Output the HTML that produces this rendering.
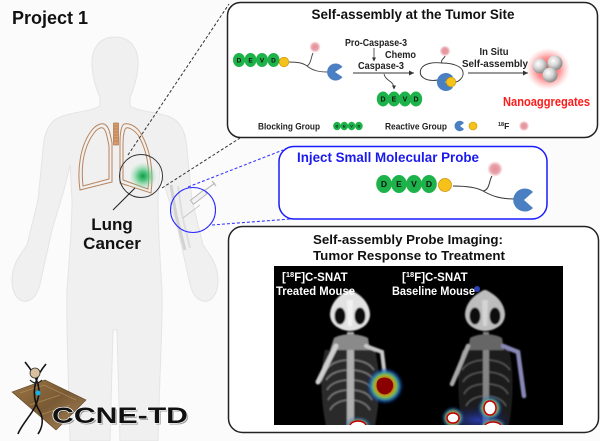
<!DOCTYPE html>
<html><head><meta charset="utf-8">
<style>
html,body{margin:0;padding:0;background:#fbfbfb;}
body{width:600px;height:441px;overflow:hidden;}
svg{display:block;font-family:"Liberation Sans",Arial,sans-serif;}
</style></head>
<body>
<svg width="600" height="441" viewBox="0 0 600 441" xmlns="http://www.w3.org/2000/svg">
<defs>
  <radialGradient id="gblob" cx="50%" cy="50%" r="50%">
    <stop offset="0" stop-color="#0f9a48"/>
    <stop offset="0.35" stop-color="#3cbf6e" stop-opacity="0.85"/>
    <stop offset="1" stop-color="#9fe0b8" stop-opacity="0"/>
  </radialGradient>
  <radialGradient id="pink" cx="50%" cy="50%" r="50%">
    <stop offset="0" stop-color="#e48f98"/>
    <stop offset="0.6" stop-color="#e9a2aa"/>
    <stop offset="1" stop-color="#f3c8cc" stop-opacity="0.3"/>
  </radialGradient>
  <radialGradient id="redglow" cx="50%" cy="50%" r="50%">
    <stop offset="0" stop-color="#ff2020" stop-opacity="0.9"/>
    <stop offset="0.55" stop-color="#ff4040" stop-opacity="0.55"/>
    <stop offset="1" stop-color="#ff8080" stop-opacity="0"/>
  </radialGradient>
  <radialGradient id="sphere" cx="38%" cy="35%" r="65%">
    <stop offset="0" stop-color="#ffffff"/>
    <stop offset="0.5" stop-color="#d6d6d6"/>
    <stop offset="1" stop-color="#8a8a8a"/>
  </radialGradient>
  <linearGradient id="chip" x1="0" y1="0" x2="1" y2="1">
    <stop offset="0" stop-color="#9a7444"/>
    <stop offset="0.5" stop-color="#7a5a34"/>
    <stop offset="1" stop-color="#a8865a"/>
  </linearGradient>
  <radialGradient id="hot1" cx="50%" cy="50%" r="50%">
    <stop offset="0" stop-color="#7a0000"/>
    <stop offset="0.45" stop-color="#b00000"/>
    <stop offset="0.58" stop-color="#e0c000"/>
    <stop offset="0.72" stop-color="#30c040"/>
    <stop offset="0.88" stop-color="#2050e0"/>
    <stop offset="1" stop-color="#1030a0" stop-opacity="0"/>
  </radialGradient>
  <radialGradient id="blueglow" cx="50%" cy="50%" r="50%">
    <stop offset="0" stop-color="#3050ff" stop-opacity="0.6"/>
    <stop offset="1" stop-color="#1020a0" stop-opacity="0"/>
  </radialGradient>
  <filter id="soft" x="-20%" y="-20%" width="140%" height="140%"><feGaussianBlur stdDeviation="0.9"/></filter>
  <filter id="soft2" x="-30%" y="-30%" width="160%" height="160%"><feGaussianBlur stdDeviation="1.6"/></filter>
  <marker id="ah" markerWidth="6" markerHeight="6" refX="5" refY="3" orient="auto" markerUnits="userSpaceOnUse">
    <path d="M0,0.5 L5,3 L0,5.5 Z" fill="#333"/>
  </marker>
  <marker id="ahs" markerWidth="4" markerHeight="4" refX="3.5" refY="2" orient="auto" markerUnits="userSpaceOnUse">
    <path d="M0,0 L4,2 L0,4 Z" fill="#333"/>
  </marker>
</defs>

<!-- Body silhouette -->
<path d="M115 37 C131 37 139 49 138 66 C137 82 132 92 130 98 L130 106 C140 112 158 112 170 117 C182 122 186 134 187 150 L192 200 L203 245 C210 255 218 265 218 280 C218 295 210 305 200 300 C192 296 190 285 188 275 L178 230 L166 190 L160 165 L158 200 C158 230 160 260 162 290 C163 320 160 360 158 441 L120 441 L117 330 L113 330 L110 441 L70 441 C68 360 66 320 67 290 C69 260 72 230 72 200 L70 165 L64 190 L52 230 L42 275 C40 285 38 296 30 300 C20 305 12 295 12 280 C12 265 20 255 27 245 L38 200 L43 150 C44 134 48 122 60 117 C72 112 90 112 100 106 L100 98 C98 92 93 82 92 66 C91 49 99 37 115 37 Z" fill="#f0f0f0" stroke="#e4e4e4" stroke-width="1"/>
<!-- arm vein strip -->
<path d="M171 185 L176 215 L185 250" stroke="#d2d2d2" stroke-width="3" fill="none"/>
<path d="M178 186 L182 215 L190 248" stroke="#dedede" stroke-width="2" fill="none"/>

<!-- Lungs -->
<g fill="none" stroke="#b8845c" stroke-width="1">
  <path d="M112 143 L112 182 L80 190 C77 170 80 145 92 130 C96 125 101 123 104 124 C109 126 110 133 112 143"/>
  <path d="M109 146 L109 179 L83 186 C81 168 83 148 94 133 C97 129 100 127 103 128 C106 130 107 136 109 146"/>
  <path d="M120 143 L120 183 L151 193 C154 170 150 148 140 132 C135 125 128 123 124 124 C121 126 120 133 120 143"/>
  <path d="M123 146 L123 180 L148 189 C150 169 147 150 138 135 C134 130 129 127 126 128 C124 130 123 136 123 146"/>
</g>
<rect x="113.5" y="123" width="5" height="22" fill="#d89a6a" stroke="#a06a40" stroke-width="0.6"/>
<path d="M113.5 126 H118.5 M113.5 129 H118.5 M113.5 132 H118.5 M113.5 135 H118.5 M113.5 138 H118.5 M113.5 141 H118.5" stroke="#a06a40" stroke-width="0.6"/>

<!-- tumor -->
<circle cx="143" cy="176" r="14" fill="url(#gblob)"/>
<circle cx="141" cy="176" r="21.5" fill="none" stroke="#333" stroke-width="1"/>
<line x1="113" y1="210" x2="135" y2="188" stroke="#222" stroke-width="1"/>

<!-- black dashed connectors -->
<line x1="128" y1="155" x2="229" y2="4" stroke="#333" stroke-width="1" stroke-dasharray="3,2"/>
<line x1="162" y1="188" x2="240" y2="138" stroke="#333" stroke-width="1" stroke-dasharray="3,2"/>

<!-- injection circle -->
<g>
  <line x1="183" y1="218" x2="200" y2="205" stroke="#c8c8c8" stroke-width="1"/>
  <rect x="190" y="195" width="17" height="5" transform="rotate(-38 198 197)" fill="#f2f2f2" stroke="#aaa" stroke-width="0.8"/>
  <line x1="204" y1="191" x2="215" y2="183" stroke="#bbb" stroke-width="1.2"/>
  <line x1="212" y1="181" x2="216" y2="186" stroke="#bbb" stroke-width="1.2"/>
</g>
<circle cx="193" cy="210" r="22.5" fill="none" stroke="#2a2aff" stroke-width="1.1"/>
<line x1="188" y1="187" x2="283" y2="150" stroke="#3a3aff" stroke-width="1.1" stroke-dasharray="3,2"/>
<line x1="212" y1="225" x2="290" y2="219" stroke="#3a3aff" stroke-width="1.1" stroke-dasharray="3,2"/>

<!-- Project 1 -->
<text x="12" y="24" font-size="18" font-weight="bold" fill="#111">Project 1</text>

<!-- Lung Cancer -->
<text x="112" y="230" font-size="17" font-weight="bold" fill="#111" text-anchor="middle">Lung</text>
<text x="112" y="249" font-size="17" font-weight="bold" fill="#111" text-anchor="middle">Cancer</text>

<!-- ============ TOP BOX ============ -->
<rect x="227.5" y="2.5" width="370" height="135" rx="13" fill="#fff" stroke="#222" stroke-width="1.5"/>
<text x="413" y="19" font-size="14" font-weight="bold" fill="#111" text-anchor="middle" textLength="203" lengthAdjust="spacingAndGlyphs">Self-assembly at the Tumor Site</text>

<!-- molecule 1 -->
<g font-size="6.5" font-weight="bold" text-anchor="middle" fill="#111">
  <ellipse cx="239" cy="60" rx="6" ry="7" fill="#1db34a"/>
  <ellipse cx="250.5" cy="60" rx="6" ry="7" fill="#1db34a"/>
  <ellipse cx="262" cy="60" rx="6" ry="7" fill="#1db34a"/>
  <ellipse cx="273.5" cy="60" rx="6" ry="7" fill="#1db34a"/>
  <text x="239" y="62.5">D</text><text x="250.5" y="62.5">E</text><text x="262" y="62.5">V</text><text x="273.5" y="62.5">D</text>
</g>
<path d="M289 62 C298 62 303 63 307 66 C313 71 320 72 328 72" fill="none" stroke="#444" stroke-width="0.9"/>
<path d="M307 66 C311 64 311 57 313 53" fill="none" stroke="#444" stroke-width="0.9"/>
<circle cx="284" cy="62" r="4.8" fill="#f6c21a" stroke="#c89000" stroke-width="0.6"/>
<circle cx="315" cy="47" r="5.5" fill="url(#pink)"/>
<path d="M335 72 L342.5 67 A8.5 8.5 0 1 0 342.5 77 Z" fill="#4a7fc1"/>

<!-- arrow 1 + labels -->
<text x="345" y="46" font-size="10" font-weight="bold" fill="#222" textLength="62" lengthAdjust="spacingAndGlyphs">Pro-Caspase-3</text>
<line x1="374" y1="48" x2="374" y2="61" stroke="#333" stroke-width="0.8" marker-end="url(#ahs)"/>
<text x="385" y="58" font-size="10" font-weight="bold" fill="#222" textLength="31" lengthAdjust="spacingAndGlyphs">Chemo</text>
<text x="358" y="69" font-size="10" font-weight="bold" fill="#222" textLength="46" lengthAdjust="spacingAndGlyphs">Caspase-3</text>
<line x1="353" y1="73" x2="414" y2="73" stroke="#333" stroke-width="0.9" marker-end="url(#ah)"/>
<path d="M384 74 C386 82 394 80 394 89" fill="none" stroke="#333" stroke-width="0.8" marker-end="url(#ahs)"/>

<!-- released DEVD -->
<g font-size="7" font-weight="bold" text-anchor="middle" fill="#111">
  <ellipse cx="383" cy="99" rx="6.2" ry="7.5" fill="#1db34a"/>
  <ellipse cx="394" cy="99" rx="6.2" ry="7.5" fill="#1db34a"/>
  <ellipse cx="405" cy="99" rx="6.2" ry="7.5" fill="#1db34a"/>
  <ellipse cx="416" cy="99" rx="6.2" ry="7.5" fill="#1db34a"/>
  <text x="383" y="101.5">D</text><text x="394" y="101.5">E</text><text x="405" y="101.5">V</text><text x="416" y="101.5">D</text>
</g>

<!-- cyclized molecule -->
<path d="M438 80 C425 82 418 76 421 69 C424 63 434 62 442 63 C452 63 462 66 463 72 C464 78 458 82 455 82" fill="none" stroke="#333" stroke-width="0.9"/>
<path d="M442 63 C440 60 445 58 445 56" fill="none" stroke="#333" stroke-width="0.9"/>
<circle cx="445" cy="51" r="5.3" fill="url(#pink)"/>
<path d="M445 82 L453 76.5 A9 9 0 1 0 453 87.5 Z" fill="#4a7fc1"/>
<circle cx="451" cy="82" r="4.8" fill="#f6c21a" stroke="#c89000" stroke-width="0.6"/>

<!-- arrow 2 -->
<text x="494" y="55" font-size="10.5" font-weight="bold" fill="#222" text-anchor="middle" textLength="29" lengthAdjust="spacingAndGlyphs">In Situ</text>
<text x="495" y="67" font-size="10.5" font-weight="bold" fill="#222" text-anchor="middle" textLength="66" lengthAdjust="spacingAndGlyphs">Self-assembly</text>
<line x1="468" y1="73" x2="528" y2="73" stroke="#333" stroke-width="0.9" marker-end="url(#ah)"/>

<!-- nanoaggregates -->
<ellipse cx="548" cy="69" rx="22" ry="21" fill="url(#redglow)"/>
<circle cx="540" cy="66" r="7.5" fill="url(#sphere)"/>
<circle cx="555" cy="63" r="7.5" fill="url(#sphere)"/>
<circle cx="550" cy="75" r="7.5" fill="url(#sphere)"/>
<text x="503" y="106" font-size="12.5" font-weight="bold" fill="#ff1a1a" textLength="87" lengthAdjust="spacingAndGlyphs">Nanoaggregates</text>

<!-- legend -->
<text x="258" y="129.5" font-size="9" font-weight="bold" fill="#222" textLength="62" lengthAdjust="spacingAndGlyphs">Blocking Group</text>
<g font-size="4" font-weight="bold" text-anchor="middle" fill="#111">
  <ellipse cx="337" cy="126" rx="3.8" ry="4.3" fill="#1db34a"/>
  <ellipse cx="344.3" cy="126" rx="3.8" ry="4.3" fill="#1db34a"/>
  <ellipse cx="351.6" cy="126" rx="3.8" ry="4.3" fill="#1db34a"/>
  <ellipse cx="358.9" cy="126" rx="3.8" ry="4.3" fill="#1db34a"/>
  <text x="337" y="127.5">D</text><text x="344.3" y="127.5">E</text><text x="351.6" y="127.5">V</text><text x="358.9" y="127.5">D</text>
</g>
<text x="385" y="129.5" font-size="9" font-weight="bold" fill="#222" textLength="62" lengthAdjust="spacingAndGlyphs">Reactive Group</text>
<path d="M460 126 L464 123 A5.2 5.2 0 1 0 464 129 Z" fill="#4a7fc1"/>
<circle cx="473" cy="126" r="4" fill="#f6c21a" stroke="#c89000" stroke-width="0.6"/>
<text x="498" y="129" font-size="8.5" font-weight="bold" fill="#222"><tspan font-size="5.5" dy="-3">18</tspan><tspan dy="3">F</tspan></text>
<circle cx="524" cy="126" r="5" fill="url(#pink)"/>

<!-- ============ BLUE BOX ============ -->
<rect x="279" y="146.5" width="268" height="72.5" rx="15" fill="#fff" stroke="#1a1aff" stroke-width="1.5"/>
<text x="297" y="162" font-size="13.5" font-weight="bold" fill="#1a1aee" textLength="182" lengthAdjust="spacingAndGlyphs">Inject Small Molecular Probe</text>
<path d="M453 186 C465 186 476 187 483 191 C492 196 500 199 514 199" fill="none" stroke="#333" stroke-width="1"/>
<path d="M483 191 C490 190 489 180 492 176" fill="none" stroke="#333" stroke-width="1"/>
<g font-size="8.5" font-weight="bold" text-anchor="middle" fill="#111">
  <ellipse cx="384" cy="184" rx="7.8" ry="9" fill="#1db34a"/>
  <ellipse cx="399" cy="184" rx="7.8" ry="9" fill="#1db34a"/>
  <ellipse cx="414" cy="184" rx="7.8" ry="9" fill="#1db34a"/>
  <ellipse cx="429" cy="184" rx="7.8" ry="9" fill="#1db34a"/>
  <text x="384" y="187">D</text><text x="399" y="187">E</text><text x="414" y="187">V</text><text x="429" y="187">D</text>
</g>
<circle cx="445" cy="185" r="6.5" fill="#f6c21a" stroke="#c89000" stroke-width="0.7"/>
<circle cx="495" cy="169" r="7.5" fill="url(#pink)"/>
<path d="M524 200 L533 192 A11.5 11.5 0 1 0 533 208 Z" fill="#4a7fc1"/>

<!-- ============ BOTTOM BOX ============ -->
<rect x="228.5" y="226.5" width="370" height="206" rx="14" fill="#fff" stroke="#222" stroke-width="1.5"/>
<text x="408" y="244" font-size="13" font-weight="bold" fill="#111" text-anchor="middle" textLength="190" lengthAdjust="spacingAndGlyphs">Self-assembly Probe Imaging:</text>
<text x="409" y="260" font-size="13" font-weight="bold" fill="#111" text-anchor="middle" textLength="192" lengthAdjust="spacingAndGlyphs">Tumor Response to Treatment</text>

<!-- image -->
<rect x="274" y="266" width="289" height="159" fill="#000"/>
<clipPath id="imgclip"><rect x="274" y="266" width="289" height="159"/></clipPath>
<g clip-path="url(#imgclip)">
  <!-- mouse 1 -->
  <g filter="url(#soft)">
    <path d="M325 350 C320 370 320 400 327 430 L374 430 C381 400 380 370 375 350 Z" fill="#2a2a2a"/>
    <g stroke="#7a7a7a" stroke-width="1.4" fill="none">
      <path d="M350 360 C338 360 330 364 326 370"/><path d="M350 360 C362 360 370 364 374 370"/>
      <path d="M350 370 C338 370 330 374 326 380"/><path d="M350 370 C362 370 370 374 374 380"/>
      <path d="M350 380 C338 380 330 384 327 390"/><path d="M350 380 C362 380 370 384 373 390"/>
      <path d="M350 390 C338 390 331 394 328 400"/><path d="M350 390 C362 390 369 394 372 400"/>
      <path d="M350 400 C340 400 333 404 330 410"/><path d="M350 400 C360 400 367 404 370 410"/>
    </g>
    <rect x="347" y="332" width="7" height="100" fill="#b0b0b0"/>
    <path d="M334 338 C342 333 358 333 368 338 L370 350 L330 350 Z" fill="#8a8a8a"/>
    <path d="M336 346 L318 382" stroke="#cfcfcf" stroke-width="5" stroke-linecap="round"/>
    <path d="M366 346 L382 352 L386 386" stroke="#c8c8c8" stroke-width="4" fill="none" stroke-linecap="round"/>
    <path d="M349 290 C341 294 331 301 330 314 C330 323 337 330 350 331 C363 330 370 323 370 314 C369 301 359 294 351 290 Z" fill="#e2e2e2"/>
    <ellipse cx="340" cy="316" rx="5.5" ry="8.5" fill="#111"/>
    <ellipse cx="360" cy="316" rx="5.5" ry="8.5" fill="#111"/>
    <path d="M347 300 L353 300 L352 326 L348 326 Z" fill="#f2f2f2"/>
  </g>
  <circle cx="385" cy="386" r="17" fill="url(#hot1)" filter="url(#soft2)"/>
  <path d="M377 382 C379 376 388 377 391 380 C395 384 393 392 387 394 C381 396 375 390 377 382 Z" fill="#8a0000"/>
  <ellipse cx="358" cy="426" rx="12" ry="8" fill="url(#hot1)" filter="url(#soft2)"/>
  <ellipse cx="358" cy="426" rx="8" ry="5" fill="#fff" stroke="#c00000" stroke-width="1.5"/>

  <!-- mouse 2 -->
  <g filter="url(#soft)">
    <path d="M462 350 C457 370 457 400 463 430 L508 430 C514 400 514 370 509 350 Z" fill="#1e1e1e"/>
    <g stroke="#5a5a5a" stroke-width="1.3" fill="none">
      <path d="M486 360 C474 360 466 364 462 370"/><path d="M486 360 C498 360 506 364 510 370"/>
      <path d="M486 372 C474 372 466 376 463 382"/><path d="M486 372 C498 372 506 376 509 382"/>
      <path d="M486 384 C474 384 467 388 464 394"/><path d="M486 384 C498 384 505 388 508 394"/>
      <path d="M486 396 C476 396 469 400 466 406"/><path d="M486 396 C496 396 503 400 506 406"/>
    </g>
    <rect x="483" y="332" width="6" height="100" fill="#858585"/>
    <path d="M470 338 C478 333 494 333 502 338 L504 350 L468 350 Z" fill="#666"/>
    <path d="M468 346 L452 384" stroke="#a8a8a8" stroke-width="4.5" stroke-linecap="round"/>
    <path d="M503 346 L518 352 L524 396" stroke="#8888b8" stroke-width="4.5" fill="none" stroke-linecap="round"/>
    <path d="M484 290 C476 294 466 301 465 314 C465 323 472 330 485 331 C498 330 505 323 505 314 C504 301 494 294 486 290 Z" fill="#bdbdbd"/>
    <ellipse cx="475" cy="316" rx="5.5" ry="8.5" fill="#111"/>
    <ellipse cx="495" cy="316" rx="5.5" ry="8.5" fill="#111"/>
    <path d="M482 300 L488 300 L487 326 L483 326 Z" fill="#d4d4d4"/>
  </g>
  <ellipse cx="478" cy="420" rx="34" ry="14" fill="url(#blueglow)"/>
  <circle cx="477" cy="289" r="3" fill="#4060ff" opacity="0.7"/>
  <circle cx="490" cy="408" r="11" fill="url(#hot1)" filter="url(#soft2)"/>
  <ellipse cx="490" cy="408" rx="6" ry="7" fill="#fff" stroke="#c00000" stroke-width="1.5"/>
  <circle cx="453" cy="418" r="10" fill="url(#hot1)" filter="url(#soft2)"/>
  <ellipse cx="453" cy="418" rx="6" ry="5" fill="#fff" stroke="#c00000" stroke-width="1.5"/>
  <ellipse cx="493" cy="426" rx="12" ry="7" fill="url(#hot1)" filter="url(#soft2)"/>
  <ellipse cx="493" cy="426" rx="8" ry="4" fill="#fff" stroke="#c00000" stroke-width="1.5"/>
</g>
<g font-size="11.5" font-weight="bold" fill="#fff">
  <text x="282" y="281"><tspan>[</tspan><tspan font-size="7.5" dy="-4">18</tspan><tspan dy="4">F]C-SNAT</tspan></text>
  <text x="276" y="295" textLength="79" lengthAdjust="spacingAndGlyphs">Treated Mouse</text>
  <text x="402" y="281"><tspan>[</tspan><tspan font-size="7.5" dy="-4">18</tspan><tspan dy="4">F]C-SNAT</tspan></text>
  <text x="392" y="295" textLength="83" lengthAdjust="spacingAndGlyphs">Baseline Mouse</text>
</g>

<!-- ============ LOGO ============ -->
<path d="M12 392 L45 380 L86 400 L56 430 Z" fill="url(#chip)" stroke="#5a4020" stroke-width="0.6"/>
<path d="M20 393 L44 385 L76 400 M30 405 L60 395 M40 415 L70 405" stroke="#b89a6a" stroke-width="0.7" fill="none" opacity="0.7"/>
<path d="M25 362 C38 378 45 392 32 412 C26 421 20 428 18 434" fill="none" stroke="#111" stroke-width="1.6"/>
<path d="M46 364 C34 378 30 396 40 412 C44 420 42 428 38 434" fill="none" stroke="#111" stroke-width="1.6"/>
<path d="M30 380 C34 384 38 384 42 380" stroke="#222" stroke-width="1.2" fill="none"/>
<circle cx="35" cy="373" r="5" fill="#d8c0a0" stroke="#333" stroke-width="0.8"/>
<circle cx="38" cy="393" r="2.5" fill="#18b0e8"/>
<text x="52" y="423" font-size="22" font-weight="900" fill="#444" textLength="136" lengthAdjust="spacingAndGlyphs" transform="translate(1.5,1.5)" opacity="0.5">CCNE-TD</text>
<text x="52" y="423" font-size="22" font-weight="900" fill="#111" stroke="#fff" stroke-width="1.2" paint-order="stroke" textLength="136" lengthAdjust="spacingAndGlyphs">CCNE-TD</text>
</svg>
</body></html>
